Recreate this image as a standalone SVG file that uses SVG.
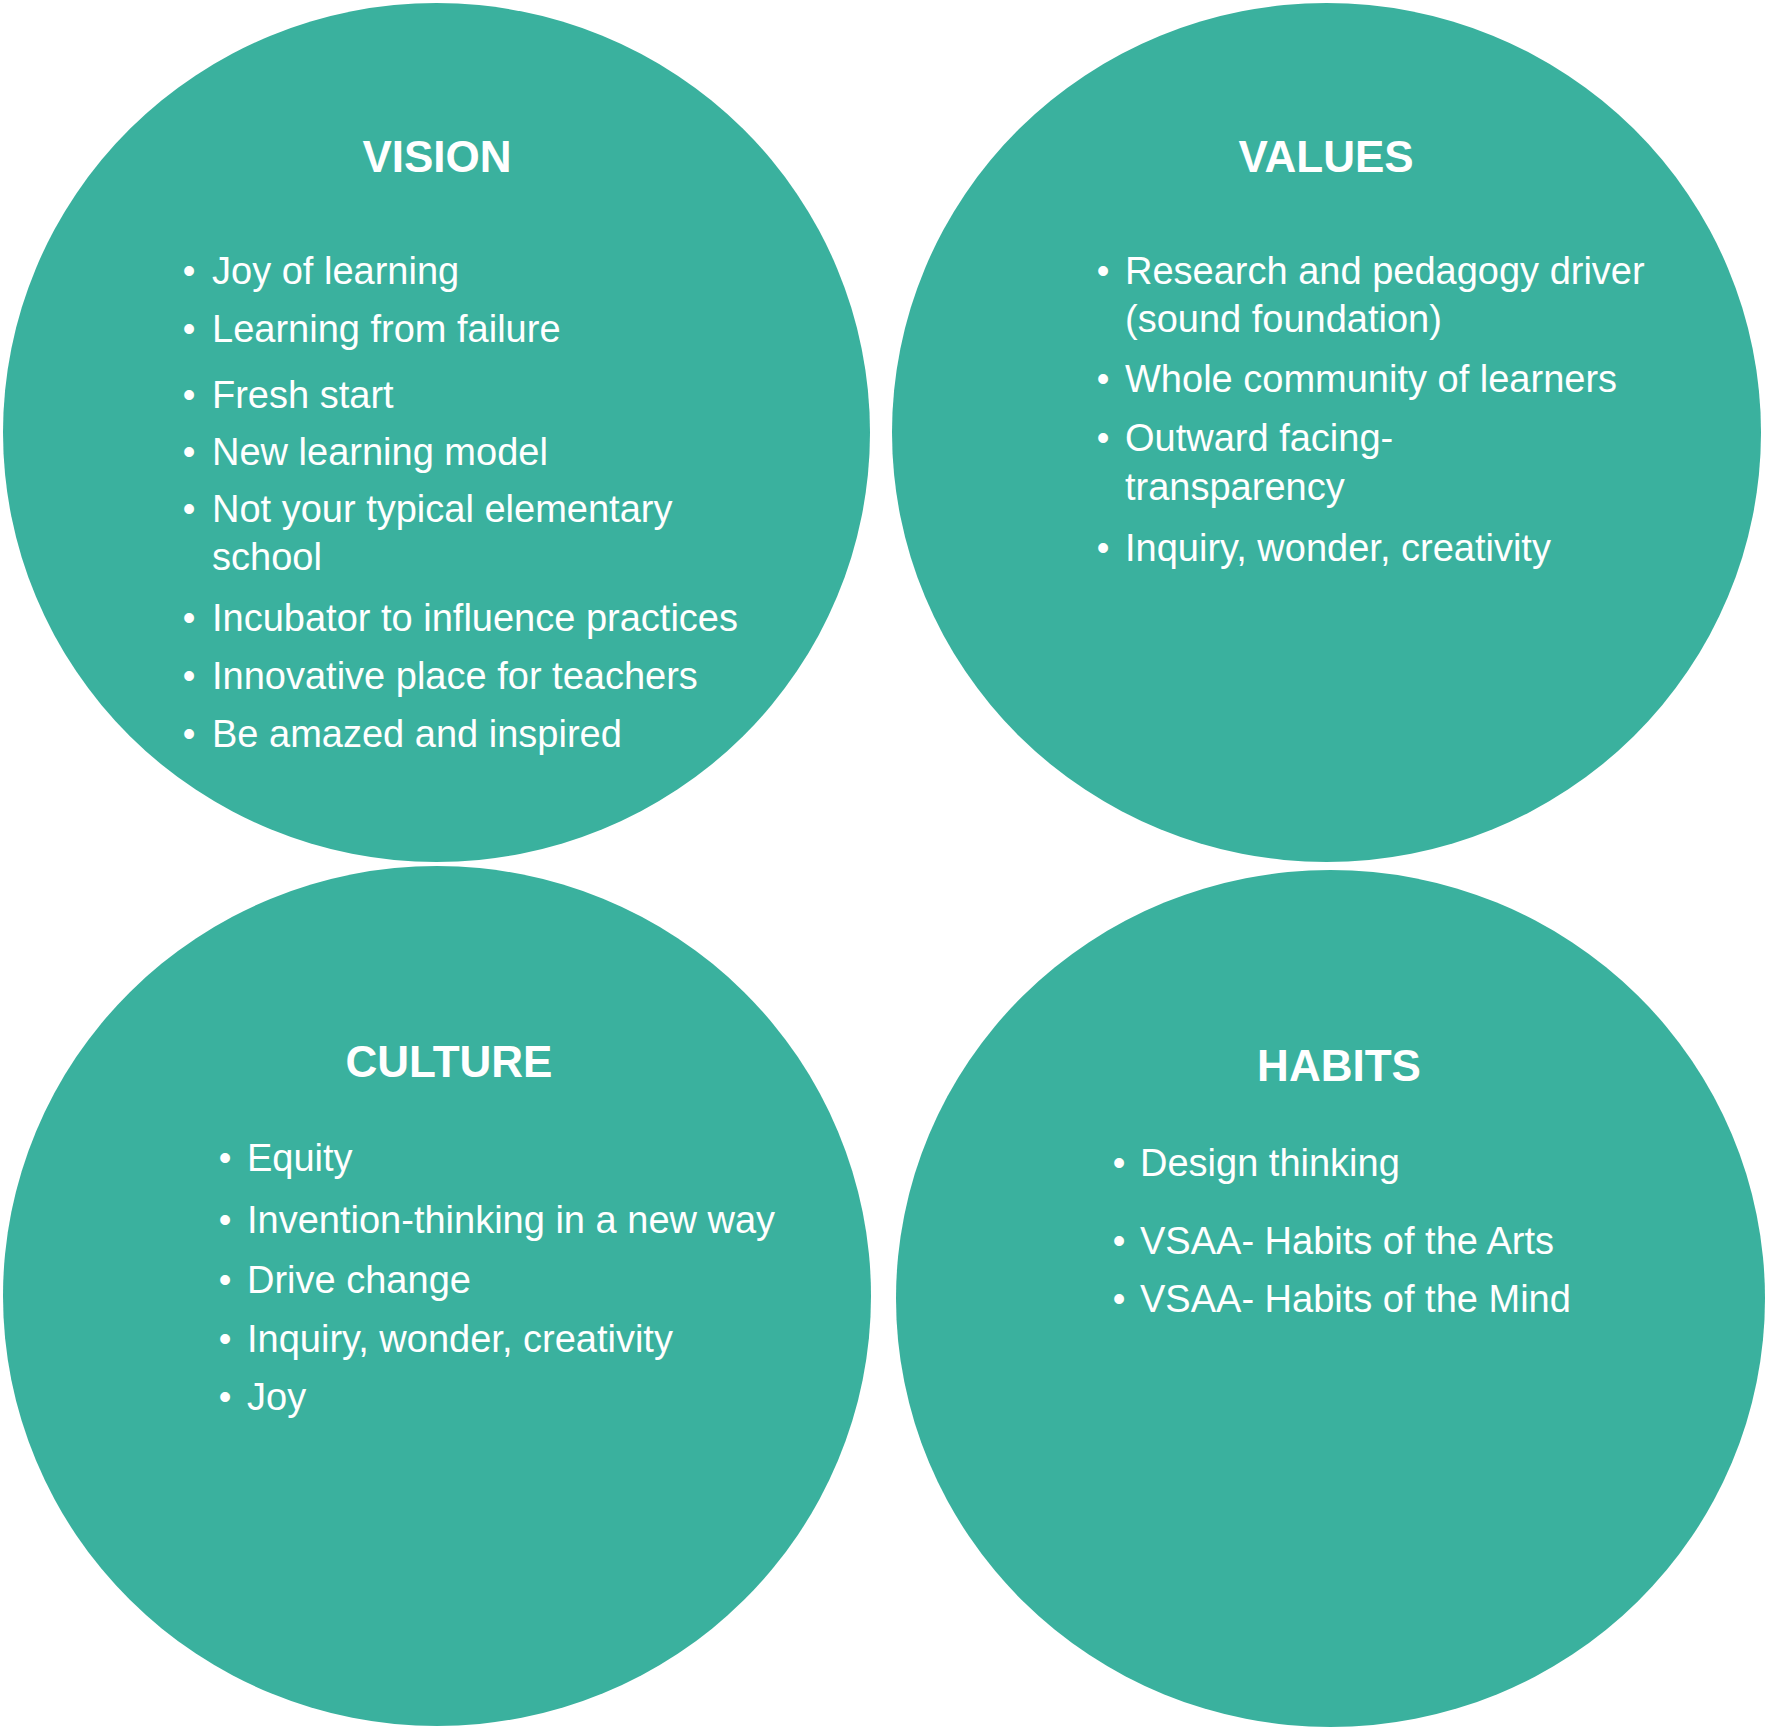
<svg xmlns="http://www.w3.org/2000/svg" width="1767" height="1728" viewBox="0 0 1767 1728">
<style>
.bg{fill:#ffffff}
.disc{fill:#3ab19e}
.title{font-family:"Liberation Sans",Arial,sans-serif;font-weight:bold;font-size:44px;fill:#ffffff;text-anchor:middle}
.item{font-family:"Liberation Sans",Arial,sans-serif;font-size:38px;fill:#ffffff}
.bul{font-family:"Liberation Sans",Arial,sans-serif;font-size:36px;fill:#ffffff;text-anchor:middle}
</style>
<rect class="bg" x="0" y="0" width="1767" height="1728"/>
<g id="connectors"/>
<g id="vision">
<ellipse class="disc" cx="436.5" cy="432.5" rx="433.5" ry="429.5"/>
<text class="title" x="437" y="172">VISION</text>
<text class="bul" x="189" y="283">•</text><text class="item" x="212" y="284">Joy of learning</text>
<text class="bul" x="189" y="341">•</text><text class="item" x="212" y="342">Learning from failure</text>
<text class="bul" x="189" y="407">•</text><text class="item" x="212" y="408">Fresh start</text>
<text class="bul" x="189" y="464">•</text><text class="item" x="212" y="465">New learning model</text>
<text class="bul" x="189" y="521">•</text><text class="item" x="212" y="522">Not your typical elementary</text>
<text class="item" x="212" y="570">school</text>
<text class="bul" x="189" y="630">•</text><text class="item" x="212" y="631">Incubator to influence practices</text>
<text class="bul" x="189" y="688">•</text><text class="item" x="212" y="689">Innovative place for teachers</text>
<text class="bul" x="189" y="746">•</text><text class="item" x="212" y="747">Be amazed and inspired</text>
</g>
<g id="values">
<ellipse class="disc" cx="1326.5" cy="432.5" rx="434.5" ry="429.5"/>
<text class="title" x="1326" y="172">VALUES</text>
<text class="bul" x="1103" y="283">•</text><text class="item" x="1125" y="284">Research and pedagogy driver</text>
<text class="item" x="1125" y="332">(sound foundation)</text>
<text class="bul" x="1103" y="391">•</text><text class="item" x="1125" y="392">Whole community of learners</text>
<text class="bul" x="1103" y="450">•</text><text class="item" x="1125" y="451">Outward facing-</text>
<text class="item" x="1125" y="500">transparency</text>
<text class="bul" x="1103" y="560">•</text><text class="item" x="1125" y="561">Inquiry, wonder, creativity</text>
</g>
<g id="culture">
<ellipse class="disc" cx="437" cy="1296" rx="434" ry="430"/>
<text class="title" x="449" y="1077">CULTURE</text>
<text class="bul" x="225" y="1170">•</text><text class="item" x="247" y="1171">Equity</text>
<text class="bul" x="225" y="1232">•</text><text class="item" x="247" y="1233">Invention-thinking in a new way</text>
<text class="bul" x="225" y="1292">•</text><text class="item" x="247" y="1293">Drive change</text>
<text class="bul" x="225" y="1351">•</text><text class="item" x="247" y="1352">Inquiry, wonder, creativity</text>
<text class="bul" x="225" y="1409">•</text><text class="item" x="247" y="1410">Joy</text>
</g>
<g id="habits">
<ellipse class="disc" cx="1330.5" cy="1298.5" rx="434.5" ry="428.5"/>
<text class="title" x="1339" y="1081">HABITS</text>
<text class="bul" x="1119" y="1175">•</text><text class="item" x="1140" y="1176">Design thinking</text>
<text class="bul" x="1119" y="1253">•</text><text class="item" x="1140" y="1254">VSAA- Habits of the Arts</text>
<text class="bul" x="1119" y="1311">•</text><text class="item" x="1140" y="1312">VSAA- Habits of the Mind</text>
</g>
</svg>
